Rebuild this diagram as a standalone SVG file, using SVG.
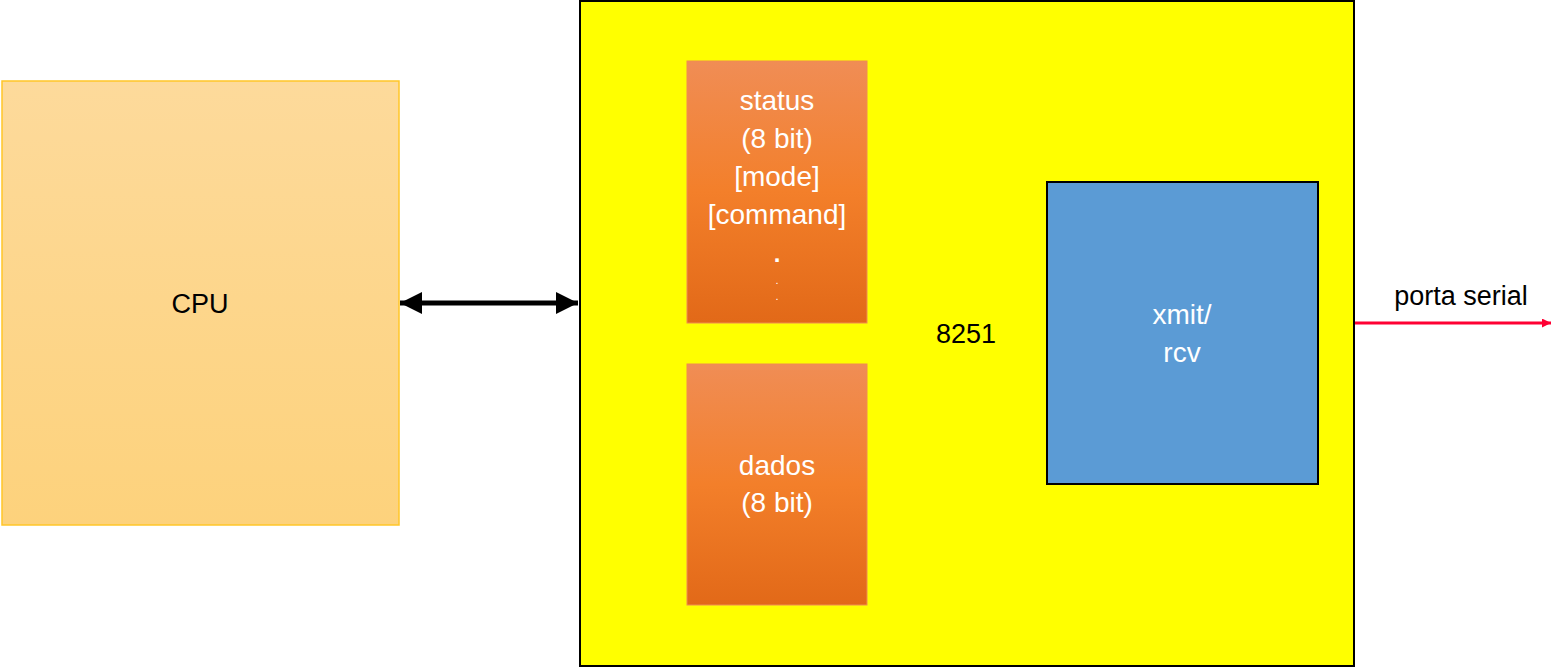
<svg xmlns="http://www.w3.org/2000/svg" width="1551" height="668" viewBox="0 0 1551 668">
  <defs>
    <linearGradient id="cpuFill" x1="0" y1="0" x2="0" y2="1">
      <stop offset="0" stop-color="#FDDA9B"/>
      <stop offset="1" stop-color="#FDD27C"/>
    </linearGradient>
    <linearGradient id="regFill" x1="0" y1="0" x2="0" y2="1">
      <stop offset="0" stop-color="#F08D55"/>
      <stop offset="0.5" stop-color="#F37F2A"/>
      <stop offset="1" stop-color="#E26918"/>
    </linearGradient>
    <marker id="headBlack" viewBox="0 0 10 10" refX="10" refY="5" markerWidth="4.4" markerHeight="4.6" markerUnits="strokeWidth" orient="auto-start-reverse">
      <path d="M0,0 L10,5 L0,10 Z" fill="#000"/>
    </marker>
    <marker id="headRed" viewBox="0 0 10 10" refX="10" refY="5" markerWidth="3" markerHeight="3" markerUnits="strokeWidth" orient="auto">
      <path d="M0,0 L10,5 L0,10 Z" fill="#FF0033"/>
    </marker>
  </defs>
  <style>
    text { font-family: "Liberation Sans", Arial, sans-serif; text-anchor: middle; }
    .dark { fill: #000; font-size: 27px; }
    .light { fill: #FFFFFF; font-size: 28px; }
    .dot-big { fill: #FFFFFF; font-size: 24px; font-weight: bold; }
    .dot-small { fill: #FFFFFF; font-size: 11px; }
    .reg { fill: url(#regFill); stroke: #F08C50; stroke-width: 1; }
  </style>

  <!-- CPU -->
  <g id="cpu">
    <rect x="2" y="81" width="397" height="444" fill="url(#cpuFill)" stroke="#FFC628" stroke-width="1.5"/>
    <text class="dark" x="200" y="313">CPU</text>
  </g>

  <!-- 8251 chip body -->
  <g id="chip8251">
    <rect x="580" y="1" width="774" height="665" fill="#FFFF00" stroke="#000" stroke-width="2"/>
    <text class="dark" x="966" y="343">8251</text>
  </g>

  <!-- status / mode / command register -->
  <g id="status">
    <rect class="reg" x="687" y="61" width="180" height="262"/>
    <text class="light" x="777" y="110">status</text>
    <text class="light" x="777" y="148">(8 bit)</text>
    <text class="light" x="777" y="186">[mode]</text>
    <text class="light" x="777" y="224">[command]</text>
    <text class="dot-big" x="777" y="262">.</text>
    <text class="dot-small" x="777" y="284">.</text>
    <text class="dot-small" x="777" y="300">.</text>
  </g>

  <!-- data register -->
  <g id="dados">
    <rect class="reg" x="687" y="364" width="180" height="241"/>
    <text class="light" x="777" y="475">dados</text>
    <text class="light" x="777" y="512">(8 bit)</text>
  </g>

  <!-- transmitter / receiver -->
  <g id="xmitrcv">
    <rect x="1047" y="182" width="271" height="302" fill="#5B9BD5" stroke="#000" stroke-width="2"/>
    <text class="light" x="1182" y="324">xmit/</text>
    <text class="light" x="1182" y="362">rcv</text>
  </g>

  <!-- connectors -->
  <g id="connectors">
    <line x1="400" y1="303" x2="578" y2="303" stroke="#000" stroke-width="5" marker-start="url(#headBlack)" marker-end="url(#headBlack)"/>
    <line x1="1355" y1="323" x2="1551" y2="323" stroke="#FF0033" stroke-width="3" marker-end="url(#headRed)"/>
    <text class="dark" x="1461" y="305">porta serial</text>
  </g>
</svg>
